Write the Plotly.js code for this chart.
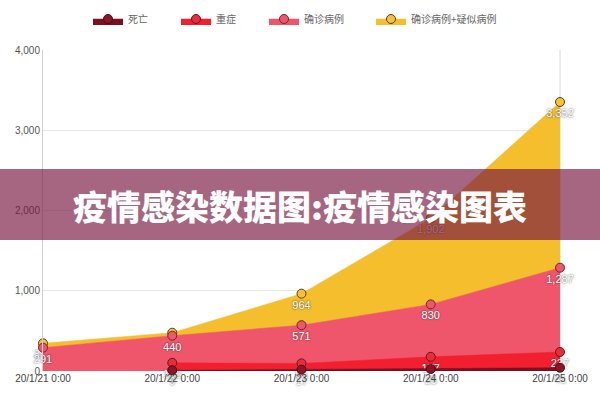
<!DOCTYPE html>
<html>
<head>
<meta charset="utf-8">
<script src="https://cdn.plot.ly/plotly-3.0.1.min.js"></script>
<style>html,body{margin:0;padding:0;background:#fff}#chart{width:600px;height:400px}</style>
</head>
<body>
<div id="chart"></div>
<script>
const dates = ["20/1/21 0:00", "20/1/22 0:00", "20/1/23 0:00", "20/1/24 0:00", "20/1/25 0:00"];
const deaths = [null, 9, 17, 25, 41];
const severe = [null, 102, 95, 177, 237];
const confirmed = [291, 440, 571, 830, 1287];
const confirmedSuspected = [345, 477, 964, 1902, 3352];
const seriesNames = ["死亡", "重症", "确诊病例", "确诊病例+疑似病例"];
const yTicks = [0, 1000, 2000, 3000, 4000];
const yTickText = ["0", "1,000", "2,000", "3,000", "4,000"];
const bannerText = "疫情感染数据图:疫情感染图表";

const cjk = '"Noto Sans CJK SC", "Noto Sans", sans-serif';
const labelFont = {family: 'Arial, "Liberation Sans", sans-serif', size: 11, color: '#ffffff', shadow: '0px 0px 2px #333'};

function mk(name, y, fill, mfill, mline, leg) {
  return {
    type: 'scatter', x: dates, y: y, name: name, legend: leg,
    mode: 'lines+markers+text',
    fill: 'tozeroy', fillcolor: fill,
    line: {color: fill, width: 0.5},
    marker: {size: 9, color: mfill, line: {color: mline, width: 1}},
    texttemplate: '%{y:,}', textposition: 'bottom center',
    textfont: labelFont, cliponaxis: false, connectgaps: false,
    hoverinfo: 'skip'
  };
}

const traces = [
  mk(seriesNames[3], confirmedSuspected, '#f4be2c', '#f6c233', '#5a3a28', 'legend4'),
  mk(seriesNames[2], confirmed, '#f0566b', '#e8596b', '#7a2030', 'legend3'),
  mk(seriesNames[1], severe, '#f2202f', '#e92c3a', '#6a1520', 'legend2'),
  mk(seriesNames[0], deaths, '#7c1022', '#8a1628', '#4a0a14', 'legend')
];

const W = 600, H = 400, ml = 43, mr = 40, mt = 50, mb = 29;
const pw = W - ml - mr, ph = H - mt - mb;
function py(pix) { return (H - mb - pix) / ph; }
function px(pix) { return (pix - ml) / pw; }

function leg(xpix) {
  return {orientation: 'h', x: px(xpix), xanchor: 'left', y: py(19), yanchor: 'middle',
    font: {family: cjk, size: 10, color: '#666'}, itemwidth: 30, bgcolor: 'rgba(0,0,0,0)'};
}

const layout = {
  width: W, height: H,
  margin: {l: ml, r: mr, t: mt, b: mb, pad: 0, autoexpand: false},
  paper_bgcolor: '#fff', plot_bgcolor: '#fff',
  showlegend: true,
  legend: leg(88), legend2: leg(176), legend3: leg(264), legend4: leg(371),
  xaxis: {type: 'category', range: [0, 4], showgrid: false, zeroline: false,
    showline: false, ticks: '', tickfont: {family: 'Arial, "Liberation Sans", sans-serif', size: 10, color: '#444'},
    fixedrange: true, automargin: false},
  yaxis: {range: [0, 4000], tickvals: yTicks, ticktext: yTickText, showgrid: true, gridcolor: '#e6e6e6',
    zeroline: false, showline: true, linecolor: '#cfcfcf', mirror: false, ticks: '',
    tickfont: {family: 'Arial, "Liberation Sans", sans-serif', size: 10, color: '#555'}, automargin: false},
  shapes: [
    {type: 'line', xref: 'paper', yref: 'paper', x0: 1, x1: 1, y0: 0, y1: 1, line: {color: '#d8d8d8', width: 1}, layer: 'below'},
    {type: 'rect', xref: 'paper', yref: 'paper', x0: px(0), x1: px(600), y0: py(240), y1: py(169),
      fillcolor: 'rgba(120,23,63,0.66)', line: {width: 0}, layer: 'above'}
  ],
  annotations: [
    {xref: 'paper', yref: 'paper', x: px(300), y: py(205), xanchor: 'center', yanchor: 'middle', showarrow: false,
      text: bannerText, font: {family: '"Noto Sans CJK SC", sans-serif', size: 34, color: '#ffffff', weight: 900}}
  ]
};

Plotly.newPlot('chart', traces, layout, {displayModeBar: false, staticPlot: true});
</script>
</body>
</html>
